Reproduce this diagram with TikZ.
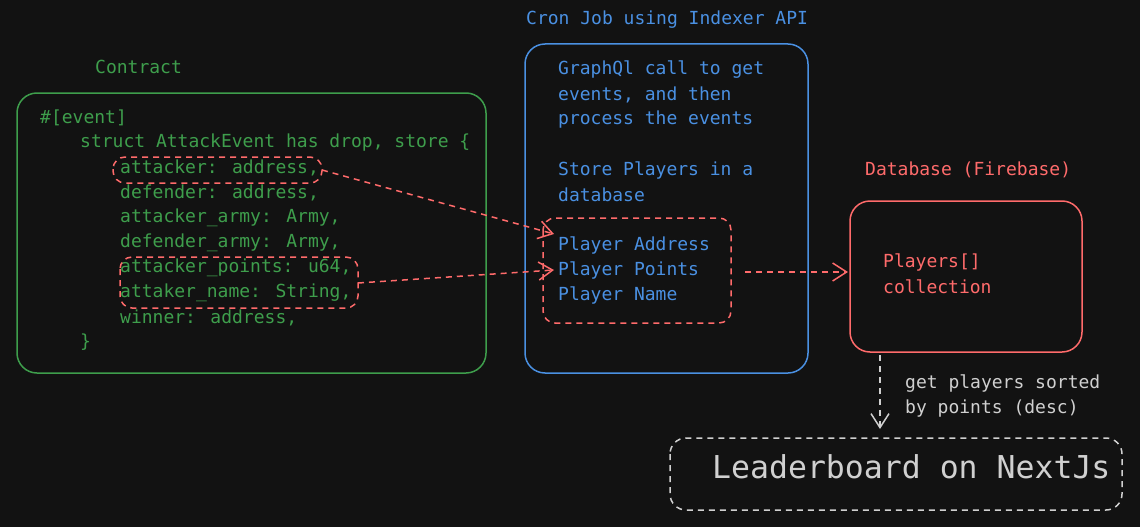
\documentclass[tikz,border=0pt]{standalone}
\usepackage{fontspec}
\newfontfamily\mono{DejaVu Sans Mono}
\usetikzlibrary{arrows.meta}
\definecolor{bg}{HTML}{121212}
\definecolor{cgreen}{HTML}{3E9E4C}
\definecolor{cblue}{HTML}{4A90E2}
\definecolor{cred}{HTML}{FF6B6B}
\definecolor{cgray}{HTML}{D0D0D0}
\tikzset{
  txt/.style={anchor=west,inner sep=0pt,font=\mono\fontsize{18}{25}\selectfont},
  gtxt/.style={txt,text=cgreen},
  btxt/.style={txt,text=cblue},
  rtxt/.style={txt,text=cred},
  wtxt/.style={txt,text=cgray},
  frame/.style={rounded corners=20pt,line width=1.5pt},
  dashbox/.style={rounded corners=12pt,line width=1.5pt,dash pattern=on 6pt off 5pt},
  conn/.style={line width=1.5pt,dash pattern=on 6pt off 5pt,-{Straight Barb[length=14pt,width=18pt,line width=1.5pt]}},
}
\begin{document}
\begin{tikzpicture}[x=1pt,y=-1pt]
\fill[bg] (0,0) rectangle (1140,527);
\useasboundingbox (0,0) rectangle (1140,527);
% Contract
\node[gtxt] (ctitle) at (95,67) {Contract};
\draw[frame,cgreen] (17,93) rectangle (486,373);
\node[gtxt] (l1) at (40,118) {\#[event]};
\node[gtxt] (l2) at (80,143) {struct AttackEvent has drop, store \{};
\node[gtxt] (l3) at (120,168) {attacker: address,};
\node[gtxt] (l4) at (120,193) {defender: address,};
\node[gtxt] (l5) at (120,218) {attacker\_army: Army,};
\node[gtxt] (l6) at (120,243) {defender\_army: Army,};
\node[gtxt] (l7) at (120,268) {attacker\_points: u64,};
\node[gtxt] (l8) at (120,293) {attaker\_name: String,};
\node[gtxt] (l9) at (120,318) {winner: address,};
\node[gtxt] (l10) at (80,342) {\}};
\draw[dashbox,cred] (113,157) rectangle (322,183);
\coordinate (a1s) at (322,170);
\draw[dashbox,cred] (120,257) rectangle (358,308);
\coordinate (a2s) at (358,283);
% Cron job
\node[btxt] (btitle) at (526,20) {Cron Job using Indexer API};
\draw[frame,cblue] (525,44) rectangle (808,373);
\node[btxt] (b1) at (558,70) {GraphQl call to get};
\node[btxt] (b2) at (558,95) {events, and then};
\node[btxt] (b3) at (558,120) {process the events};
\node[btxt] (b4) at (558,170) {Store Players in a};
\node[btxt] (b5) at (558,195) {database};
\node[btxt] (p1) at (558,245) {Player Address};
\node[btxt] (p2) at (558,270) {Player Points};
\node[btxt] (p3) at (558,295) {Player Name};
\draw[dashbox,cred] (543,218) rectangle (731,323);
\coordinate (a1e) at (554,234);
\coordinate (a2e) at (554,270);
\coordinate (a3s) at (745,272);
% Database
\node[rtxt] (rtitle) at (865,170) {Database (Firebase)};
\draw[frame,cred] (850,201) rectangle (1082,352);
\node[rtxt] (r1) at (883,262) {Players[]};
\node[rtxt] (r2) at (883,287) {collection};
\coordinate (a3e) at (848,272);
% Leaderboard
\coordinate (a4s) at (880,355);
\coordinate (a4e) at (880,429);
\node[wtxt] (w1) at (905,384) {get players sorted};
\node[wtxt] (w2) at (905,409) {by points (desc)};
\draw[dashbox,cgray,rounded corners=16pt] (670,438) rectangle (1122,510);
\node[wtxt,font=\mono\fontsize{31.5}{36}\selectfont] (lb) at (712,467) {Leaderboard on NextJs};
% connectors
\draw[conn,cred] (a1s) -- (a1e);
\draw[conn,cred] (a2s) -- (a2e);
\draw[conn,cred] (a3s) -- (a3e);
\draw[conn,cgray] (a4s) -- (a4e);
\end{tikzpicture}
\end{document}
